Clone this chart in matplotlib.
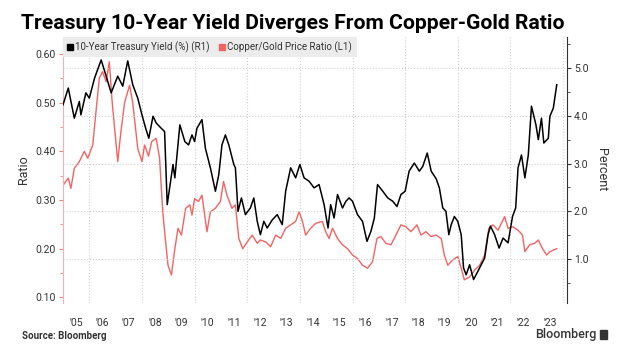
import numpy as np
import matplotlib
matplotlib.use('Agg')
import matplotlib.pyplot as plt
from matplotlib.lines import Line2D
from matplotlib.patches import Rectangle
from matplotlib.ticker import MultipleLocator, FixedLocator

plt.rcParams['font.family'] = ['Roboto', 'DejaVu Sans']

# 10-year treasury yield (%), right axis
yield_dates = [2005.0, 2005.2, 2005.43, 2005.62, 2005.68, 2005.87, 2006.0, 2006.2, 2006.45, 2006.64,
               2006.83, 2007.08, 2007.27, 2007.46, 2007.65, 2007.84, 2008.0, 2008.14, 2008.26, 2008.42,
               2008.54, 2008.73, 2008.86, 2008.96, 2009.18, 2009.25, 2009.44, 2009.63, 2009.77, 2009.9,
               2010.0, 2010.09, 2010.28, 2010.41, 2010.6, 2010.79, 2010.92, 2011.04, 2011.17, 2011.3,
               2011.49, 2011.55, 2011.65, 2011.78, 2011.93, 2012.12, 2012.25, 2012.38, 2012.5, 2012.63,
               2012.76, 2012.95, 2013.14, 2013.33, 2013.46, 2013.65, 2013.84, 2014.0, 2014.16, 2014.35,
               2014.54, 2014.73, 2014.92, 2015.07, 2015.17, 2015.3, 2015.43, 2015.62, 2015.75, 2015.87,
               2016.0, 2016.19, 2016.38, 2016.55, 2016.7, 2016.83, 2016.95, 2017.15, 2017.34, 2017.53,
               2017.69, 2017.84, 2018.0, 2018.15, 2018.35, 2018.54, 2018.67, 2018.84, 2018.99, 2019.18,
               2019.3, 2019.43, 2019.55, 2019.66, 2019.75, 2019.87, 2020.0, 2020.13, 2020.22, 2020.32,
               2020.45, 2020.6, 2020.76, 2020.89, 2021.02, 2021.15, 2021.24, 2021.4, 2021.57, 2021.72,
               2021.91, 2022.08, 2022.2, 2022.29, 2022.42, 2022.55, 2022.68, 2022.8, 2022.97, 2023.06,
               2023.18, 2023.27, 2023.44, 2023.5, 2023.63, 2023.76]
yield_pct = [4.23, 4.58, 3.95, 4.30, 4.02, 4.48, 4.37, 4.79, 5.17, 4.83,
             4.48, 4.83, 4.62, 5.15, 4.65, 4.37, 4.02, 3.74, 3.53, 3.99,
             3.85, 3.74, 3.67, 2.14, 2.98, 2.70, 3.81, 3.46, 3.39, 3.60,
             3.46, 3.74, 3.92, 3.32, 2.91, 2.42, 2.77, 3.39, 3.60, 3.39,
             2.98, 2.91, 2.00, 2.28, 1.93, 2.07, 2.28, 1.79, 1.51, 1.79,
             1.65, 1.82, 1.93, 1.72, 2.42, 2.91, 2.70, 2.98, 2.70, 2.63,
             2.49, 2.56, 2.14, 1.65, 2.14, 1.86, 2.35, 2.07, 2.21, 2.28,
             2.21, 1.93, 1.79, 1.37, 1.58, 1.86, 2.56, 2.42, 2.28, 2.21,
             2.10, 2.35, 2.42, 2.84, 3.01, 2.84, 2.94, 3.22, 2.84, 2.68,
             2.49, 2.07, 2.00, 1.51, 1.72, 1.89, 1.79, 1.51, 0.81, 0.67,
             0.88, 0.57, 0.74, 0.88, 1.02, 1.51, 1.69, 1.51, 1.23, 1.44,
             1.34, 1.89, 2.07, 2.91, 3.18, 2.70, 3.18, 4.20, 3.81, 3.50,
             3.95, 3.43, 3.53, 3.99, 4.16, 4.65]

# copper/gold price ratio, left axis
ratio_dates = [2005.0, 2005.2, 2005.3, 2005.43, 2005.62, 2005.81, 2005.94, 2006.13, 2006.25, 2006.38,
               2006.5, 2006.64, 2006.76, 2006.87, 2006.95, 2007.08, 2007.2, 2007.34, 2007.53, 2007.65,
               2007.84, 2008.0, 2008.1, 2008.25, 2008.37, 2008.54, 2008.67, 2008.73, 2008.8, 2008.9,
               2008.99, 2009.12, 2009.25, 2009.37, 2009.5, 2009.66, 2009.82, 2009.9, 2010.0, 2010.15,
               2010.28, 2010.47, 2010.6, 2010.79, 2010.98, 2011.1, 2011.23, 2011.42, 2011.55, 2011.68,
               2011.83, 2012.0, 2012.19, 2012.38, 2012.5, 2012.7, 2012.89, 2013.08, 2013.27, 2013.46,
               2013.65, 2013.84, 2013.97, 2014.1, 2014.22, 2014.41, 2014.6, 2014.85, 2014.98, 2015.11,
               2015.24, 2015.43, 2015.62, 2015.81, 2016.0, 2016.19, 2016.38, 2016.57, 2016.76, 2016.93,
               2017.08, 2017.27, 2017.46, 2017.65, 2017.84, 2018.03, 2018.22, 2018.45, 2018.6, 2018.79,
               2018.98, 2019.18, 2019.37, 2019.49, 2019.62, 2019.81, 2020.0, 2020.13, 2020.25, 2020.45,
               2020.64, 2020.83, 2021.02, 2021.18, 2021.34, 2021.53, 2021.78, 2021.91, 2022.1, 2022.29,
               2022.46, 2022.55, 2022.73, 2022.92, 2023.06, 2023.22, 2023.38, 2023.5, 2023.63, 2023.76]
ratio_vals = [0.330, 0.345, 0.324, 0.365, 0.379, 0.400, 0.386, 0.413, 0.480, 0.550,
              0.564, 0.543, 0.584, 0.500, 0.454, 0.379, 0.440, 0.500, 0.536, 0.500,
              0.406, 0.379, 0.413, 0.390, 0.420, 0.427, 0.386, 0.330, 0.270, 0.214,
              0.166, 0.146, 0.200, 0.242, 0.228, 0.283, 0.290, 0.269, 0.303, 0.297,
              0.310, 0.235, 0.276, 0.283, 0.297, 0.338, 0.310, 0.283, 0.290, 0.221,
              0.200, 0.214, 0.228, 0.211, 0.218, 0.214, 0.204, 0.228, 0.221, 0.242,
              0.249, 0.256, 0.276, 0.256, 0.228, 0.242, 0.252, 0.256, 0.235, 0.221,
              0.242, 0.221, 0.208, 0.200, 0.187, 0.180, 0.166, 0.160, 0.173, 0.221,
              0.225, 0.211, 0.208, 0.228, 0.249, 0.245, 0.235, 0.249, 0.228, 0.235,
              0.225, 0.228, 0.221, 0.187, 0.166, 0.177, 0.184, 0.160, 0.136, 0.142,
              0.156, 0.166, 0.187, 0.242, 0.249, 0.238, 0.266, 0.242, 0.245, 0.238,
              0.228, 0.194, 0.208, 0.211, 0.218, 0.200, 0.187, 0.194, 0.197, 0.200]

years = list(range(2005, 2024))
year_labels = ["'%02d" % (y % 100) for y in years]

red = '#f26363'
txt = '#333333'

fig = plt.figure(figsize=(6.3, 3.54), dpi=100)
ax = fig.add_axes([0.1, 0.144, 0.8, 0.7515])
ax2 = ax.twinx()

ax.plot(ratio_dates, ratio_vals, color=red, lw=1.0)
ax2.plot(yield_dates, yield_pct, color='black', lw=1.1)

ax.set_xlim(2005.0, 2024.15)
ax.set_ylim(0.0884, 0.635)
ax2.set_ylim(0.079, 5.65)

# x axis: labels mid-year, dotted grid every two years
ax.xaxis.set_major_locator(FixedLocator([y + 0.5 for y in years]))
ax.set_xticklabels(year_labels)
ax.xaxis.set_minor_locator(FixedLocator(list(range(2006, 2025, 2))))
ax.tick_params(axis='x', which='both', length=0, pad=11, labelsize=7.5, labelcolor=txt)
ax.grid(True, axis='x', which='minor', color='#d0d0d0', linestyle=':', lw=0.8)

# left axis
ax.yaxis.set_major_locator(MultipleLocator(0.1))
ax.yaxis.set_minor_locator(MultipleLocator(0.05))
ax.yaxis.set_major_formatter(matplotlib.ticker.FormatStrFormatter('%.2f'))
ax.tick_params(axis='y', which='both', color='#f08080', labelcolor=txt, labelsize=7.5)
ax.tick_params(axis='y', which='major', length=3, pad=2)
ax.tick_params(axis='y', which='minor', length=2)
ax.set_ylabel('Ratio', fontsize=9, color=txt, labelpad=4)

# right axis
ax2.yaxis.set_major_locator(FixedLocator([1, 2, 3, 4, 5]))
ax2.yaxis.set_minor_locator(MultipleLocator(0.5))
ax2.yaxis.set_major_formatter(matplotlib.ticker.FormatStrFormatter('%.1f'))
ax2.tick_params(axis='y', which='both', color=txt, labelcolor=txt, labelsize=7.5)
ax2.tick_params(axis='y', which='major', length=3, pad=2)
ax2.tick_params(axis='y', which='minor', length=2)
ax2.grid(True, axis='y', which='major', color='#d0d0d0', linestyle=':', lw=0.8)
ax2.set_ylabel('Percent', fontsize=9, color=txt, rotation=270, labelpad=14)

for a in (ax, ax2):
    a.spines['top'].set_visible(False)
    a.spines['bottom'].set_visible(False)
ax.spines['right'].set_visible(False)
ax2.spines['left'].set_visible(False)
ax.spines['left'].set_color('#f7b0b0')
ax2.spines['right'].set_color(txt)

handles = [Line2D([], [], marker='s', ls='none', color='black', markersize=4),
           Line2D([], [], marker='s', ls='none', color=red, markersize=4)]
leg = ax2.legend(handles, ['10-Year Treasury Yield (%) (R1)', 'Copper/Gold Price Ratio (L1)'],
                 loc='upper left', bbox_to_anchor=(0, 1), borderaxespad=0, ncol=2,
                 fancybox=False, facecolor='#ececec', edgecolor='none', framealpha=1,
                 fontsize=7, handlelength=0.5, handletextpad=0.3, columnspacing=1.0,
                 borderpad=0.45)
for t in leg.get_texts():
    t.set_color(txt)

fig.text(0.033, 0.935, 'Treasury 10-Year Yield Diverges From Copper-Gold Ratio',
         fontsize=15.2, fontweight='bold', va='center', ha='left', color='black')
fig.text(0.035, 0.05, 'Source: Bloomberg', fontsize=7, fontweight='bold', color=txt, va='center')
fig.text(0.85, 0.055, 'Bloomberg', fontsize=9, fontweight='medium', color=txt, va='center')
fig.patches.append(Rectangle((0.953, 0.043), 0.011, 0.025, transform=fig.transFigure,
                             color=txt, figure=fig))

fig.savefig('out.png', dpi=100)
